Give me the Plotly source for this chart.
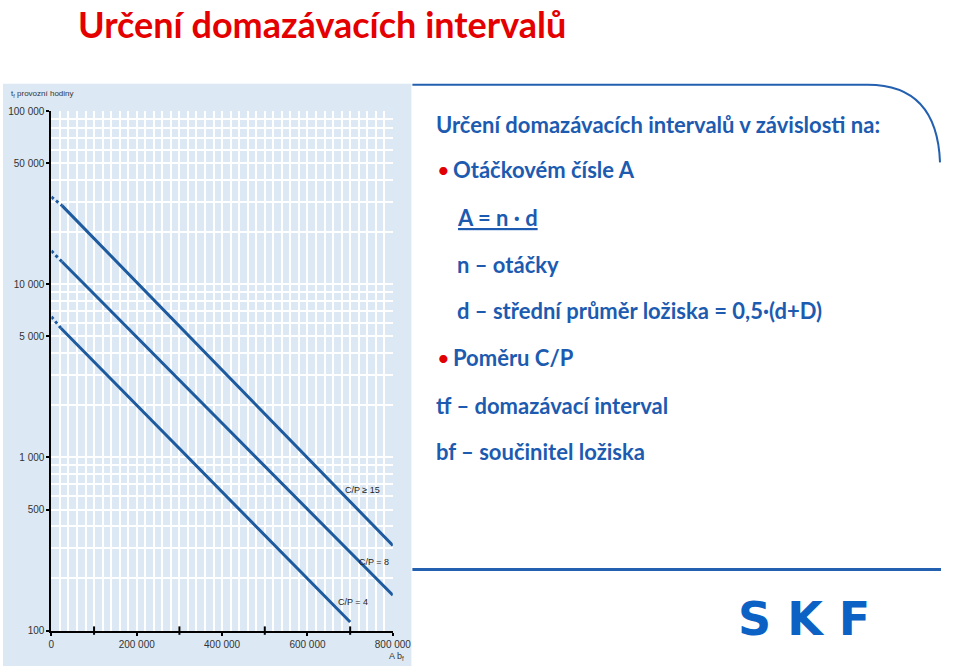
import plotly.graph_objects as go

# ---------------- data ----------------
x_ticks = [0, 200000, 400000, 600000, 800000]
x_ticktext = ["0", "200 000", "400 000", "600 000", "800 000"]
x_minor_ticks = [100000, 300000, 500000, 700000]
y_ticks = [100, 500, 1000, 5000, 10000, 50000, 100000]
y_ticktext = ["100", "500", "1 000", "5 000", "10 000", "50 000", "100 000"]

series_names = ["C/P ≥ 15", "C/P = 8", "C/P = 4"]
# dotted start segment (x, y) and solid segment (x, y)
dot_x = [[0, 25000], [0, 25000], [0, 22000]]
dot_y = [[32000, 28500], [15600, 13500], [6500, 5600]]
sol_x = [[25000, 800000], [25000, 800000], [22000, 700000]]
sol_y = [[28500, 310], [13500, 160], [5600, 112]]

# ---------------- helpers (pixel -> paper) ----------------
W, H = 960, 672
def X(px):
    return px / W
def Y(py):
    return 1 - py / H

LINE = "#1d5a9e"
BG = "#dce9f5"
TXT = "#1c5bb0"
CHART_FONT = "Liberation Sans Narrow, Liberation Sans, Arial, sans-serif"
SLIDE_FONT = "Lato, Open Sans, sans-serif"

fig = go.Figure()
for i in range(3):
    fig.add_trace(go.Scatter(x=dot_x[i], y=dot_y[i], mode="lines",
                             line=dict(color=LINE, width=3, dash="dot"),
                             showlegend=False, hoverinfo="skip"))
    fig.add_trace(go.Scatter(x=sol_x[i], y=sol_y[i], mode="lines",
                             line=dict(color=LINE, width=3),
                             name=series_names[i], showlegend=False))
# unlabelled intermediate x ticks (100 000, 300 000, ...) on the axis line
fig.add_trace(go.Scatter(x=x_minor_ticks, y=[y_ticks[0]] * len(x_minor_ticks),
                         mode="markers", cliponaxis=False,
                         marker=dict(symbol="line-ns", size=6, line=dict(color="black", width=2)),
                         showlegend=False, hoverinfo="skip"))

minor_y = [k * 10 ** e for e in range(2, 5) for k in range(1, 10)] + [100000]

fig.update_layout(
    width=W, height=H,
    margin=dict(l=0, r=0, t=0, b=0),
    paper_bgcolor="white",
    plot_bgcolor=BG,
    xaxis=dict(
        domain=[X(49.5), X(399)],
        range=[0, 800000],
        tickvals=x_ticks, ticktext=x_ticktext,
        ticks="outside", ticklen=3, tickwidth=2, tickcolor="black",
        showline=True, linecolor="black", linewidth=2,
        showgrid=True, gridcolor="white", gridwidth=1.5,
        minor=dict(dtick=20000, showgrid=True, gridcolor="white", gridwidth=1.5, ticks=""),
        zeroline=False,
        tickfont=dict(family=CHART_FONT, size=10, color="#333333"),
        fixedrange=True,
    ),
    yaxis=dict(
        domain=[Y(636), Y(108)],
        type="log", range=[2, 5],
        tickvals=y_ticks, ticktext=y_ticktext,
        ticks="outside", ticklen=3, tickwidth=2, tickcolor="black",
        showline=True, linecolor="black", linewidth=2,
        showgrid=True, gridcolor="white", gridwidth=1.5,
        minor=dict(tickvals=minor_y, showgrid=True, gridcolor="white", gridwidth=1.5, ticks=""),
        zeroline=False,
        tickfont=dict(family=CHART_FONT, size=10, color="#333333"),
        fixedrange=True,
    ),
)

shapes = []
# light blue chart picture background
shapes.append(dict(type="rect", xref="paper", yref="paper", x0=0, x1=X(418), y0=0, y1=Y(80),
                   fillcolor=BG, line=dict(width=0), layer="below"))
# top border with rounded corner
path = "M {},{} L {},{} Q {},{} {},{}".format(X(419), Y(81), X(885), Y(81), X(956), Y(81), X(959), Y(160))
shapes.append(dict(type="path", xref="paper", yref="paper", path=path,
                   line=dict(color="#2460b0", width=2)))
# bottom border
shapes.append(dict(type="line", xref="paper", yref="paper", x0=X(419), x1=1, y0=Y(574), y1=Y(574),
                   line=dict(color="#2460b0", width=3)))
fig.update_layout(shapes=shapes)

ann = []
def add(text, x, y, size, color, family, xanchor="left", yanchor="middle"):
    ann.append(dict(text=text, x=X(x), y=Y(y), xref="paper", yref="paper", showarrow=False,
                    xanchor=xanchor, yanchor=yanchor,
                    font=dict(size=size, color=color, family=family)))

# slide title
add("<b>Určení domazávacích intervalů</b>", 75, 19, 36, "#e50000", SLIDE_FONT)

# chart texts
add("t<sub>f</sub> provozní hodiny", 6, 90, 8, "#333333", CHART_FONT)
add("A b<sub>f</sub>", 412, 662, 9, "#333333", CHART_FONT, xanchor="right")
add(series_names[0], 368, 493, 9, "#222222", CHART_FONT, xanchor="center")
add(series_names[1], 380, 566, 9, "#222222", CHART_FONT, xanchor="center")
add(series_names[2], 358, 607, 9, "#222222", CHART_FONT, xanchor="center")

# right-hand text
RS = 22
add("<b>Určení domazávacích intervalů v závislosti na:</b>", 441, 121, RS, TXT, SLIDE_FONT)
add("•", 442, 167, RS, "#e00000", SLIDE_FONT)
add("<b>Otáčkovém čísle A</b>", 458, 167, RS, TXT, SLIDE_FONT)
add("<b><u>A = n · d</u></b>", 463, 216, RS, TXT, SLIDE_FONT)
add("<b>n – otáčky</b>", 463, 264, RS, TXT, SLIDE_FONT)
add("<b>d – střední průměr ložiska = 0,5·(d+D)</b>", 463, 311, RS, TXT, SLIDE_FONT)
add("•", 442, 358, RS, "#e00000", SLIDE_FONT)
add("<b>Poměru C/P</b>", 458, 358, RS, TXT, SLIDE_FONT)
add("<b>tf – domazávací interval</b>", 441, 407, RS, TXT, SLIDE_FONT)
add("<b>bf – součinitel ložiska</b>", 441, 454, RS, TXT, SLIDE_FONT)

# logo
add("<b>S K F</b>", 820, 624, 46, "#0b62c4", "DejaVu Sans, sans-serif", xanchor="center")

fig.update_layout(annotations=ann)
fig.write_html("out.html")
